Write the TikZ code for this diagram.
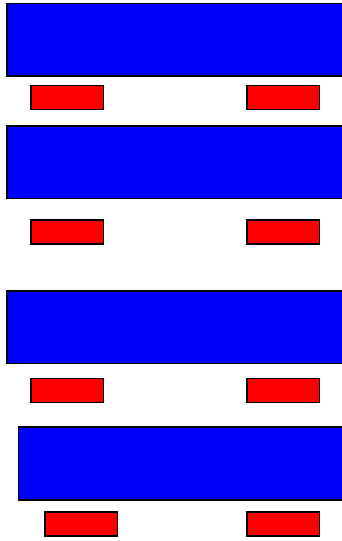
\documentclass[tikz,border=0pt]{standalone}
\begin{document}
\begin{tikzpicture}[x=1pt,y=-1pt,
  bluebox/.style={draw=black,fill={rgb,255:red,0;green,0;blue,255},line width=1.6pt,inner sep=0pt,outer sep=0pt,anchor=north west,minimum height=72.5pt,minimum width=345pt},
  redbox/.style={draw=black,fill={rgb,255:red,255;green,0;blue,0},line width=1.6pt,inner sep=0pt,outer sep=0pt,anchor=north west,minimum height=24pt,minimum width=72.5pt}]
\useasboundingbox (0,0) rectangle (342,541);
\clip (0,0) rectangle (342,541);
\node[bluebox] (b1) at (6.8,3.3) {};
\node[redbox] (r1a) at (31,85.5) {};
\node[redbox] (r1b) at (247,85.5) {};
\node[bluebox] (b2) at (6.8,125.8) {};
\node[redbox] (r2a) at (31,220) {};
\node[redbox] (r2b) at (247,220) {};
\node[bluebox] (b3) at (6.8,290.8) {};
\node[redbox] (r3a) at (31,378.5) {};
\node[redbox] (r3b) at (247,378.5) {};
\node[bluebox] (b4) at (18.6,427.2) {};
\node[redbox] (r4a) at (45,512) {};
\node[redbox] (r4b) at (247,512) {};
\end{tikzpicture}
\end{document}
